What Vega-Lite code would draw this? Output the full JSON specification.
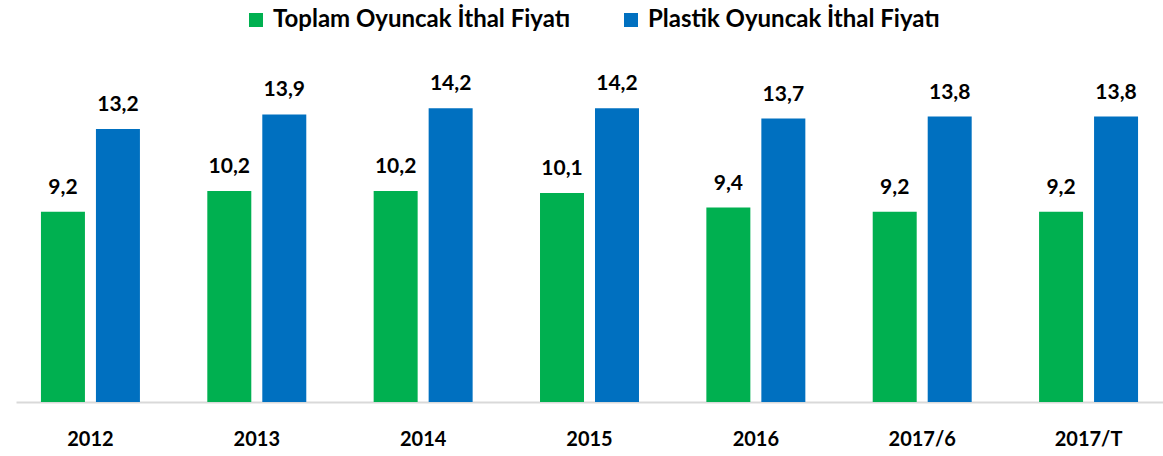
{
  "$schema": "https://vega.github.io/schema/vega-lite/v6.json",
  "width": 1147,
  "height": 331,
  "autosize": {"type": "none"},
  "padding": {"left": 16, "top": 71, "right": 0, "bottom": 54},
  "background": "white",
  "config": {
    "view": {"stroke": null},
    "font": "Lato",
    "locale": {"number": {"decimal": ",", "thousands": ".", "grouping": [3], "currency": ["", ""]}}
  },
  "data": {
    "values": [
      {"year": "2012", "series": "Toplam Oyuncak İthal Fiyatı", "value": 9.2},
      {"year": "2012", "series": "Plastik Oyuncak İthal Fiyatı", "value": 13.2},
      {"year": "2013", "series": "Toplam Oyuncak İthal Fiyatı", "value": 10.2},
      {"year": "2013", "series": "Plastik Oyuncak İthal Fiyatı", "value": 13.9},
      {"year": "2014", "series": "Toplam Oyuncak İthal Fiyatı", "value": 10.2},
      {"year": "2014", "series": "Plastik Oyuncak İthal Fiyatı", "value": 14.2},
      {"year": "2015", "series": "Toplam Oyuncak İthal Fiyatı", "value": 10.1},
      {"year": "2015", "series": "Plastik Oyuncak İthal Fiyatı", "value": 14.2},
      {"year": "2016", "series": "Toplam Oyuncak İthal Fiyatı", "value": 9.4},
      {"year": "2016", "series": "Plastik Oyuncak İthal Fiyatı", "value": 13.7},
      {"year": "2017/6", "series": "Toplam Oyuncak İthal Fiyatı", "value": 9.2},
      {"year": "2017/6", "series": "Plastik Oyuncak İthal Fiyatı", "value": 13.8},
      {"year": "2017/T", "series": "Toplam Oyuncak İthal Fiyatı", "value": 9.2},
      {"year": "2017/T", "series": "Plastik Oyuncak İthal Fiyatı", "value": 13.8}
    ]
  },
  "encoding": {
    "x": {
      "field": "year", "type": "nominal", "sort": null,
      "scale": {"paddingInner": 0.405, "paddingOuter": 0.15},
      "axis": {
        "title": null, "labelAngle": 0, "ticks": false,
        "domainColor": "#D9D9D9", "domainWidth": 2,
        "labelFont": "Lato", "labelFontWeight": "bold", "labelFontSize": 20,
        "labelColor": "#000000", "labelPadding": 27
      }
    },
    "xOffset": {
      "field": "series", "type": "nominal",
      "scale": {"domain": ["Toplam Oyuncak İthal Fiyatı", "Plastik Oyuncak İthal Fiyatı"], "paddingInner": 0.2, "paddingOuter": 0}
    },
    "y": {
      "field": "value", "type": "quantitative",
      "scale": {"domain": [0, 16], "nice": false},
      "axis": null
    }
  },
  "layer": [
    {
      "mark": {"type": "bar"},
      "encoding": {
        "color": {
          "field": "series", "type": "nominal",
          "scale": {"domain": ["Toplam Oyuncak İthal Fiyatı", "Plastik Oyuncak İthal Fiyatı"], "range": ["#00B050", "#0070C0"]},
          "legend": {
            "title": null, "orient": "none", "direction": "horizontal",
            "legendX": 228, "legendY": -63,
            "symbolType": "square", "symbolSize": 196, "symbolStrokeWidth": 0,
            "labelFont": "Lato", "labelFontWeight": "bold", "labelFontSize": 24,
            "labelColor": "#000000", "labelLimit": 500, "columnPadding": 48, "labelOffset": 5
          }
        }
      }
    },
    {
      "mark": {"type": "text", "baseline": "alphabetic", "dy": -18, "font": "Lato", "fontWeight": "bold", "fontSize": 21, "color": "#000000"},
      "encoding": {
        "text": {"field": "value", "type": "quantitative", "format": ".1f"}
      }
    }
  ]
}
